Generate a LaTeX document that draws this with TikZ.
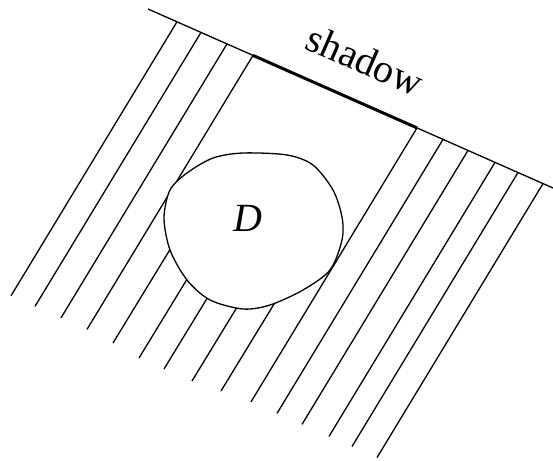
\documentclass[tikz,border=0pt]{standalone}
\usepackage{fontspec}
\setmainfont{Liberation Serif}
\usetikzlibrary{calc}
\definecolor{Ink}{HTML}{000000}
\tikzset{
  rayline/.style={draw=Ink, line width=1.3pt},
  wallline/.style={draw=Ink, line width=1.3pt},
  shadowline/.style={draw=Ink, line width=3pt},
  blobline/.style={draw=Ink, fill=white, line width=1.3pt},
  tagfont/.style={font=\fontsize{40}{48}\selectfont, inner sep=0pt}
}

\begin{document}
\begin{tikzpicture}[x=1pt,y=-1pt]
  \useasboundingbox (0,0) rectangle (553,460);
  \coordinate (wallL) at (148,9);
  \coordinate (wallR) at (553,188);
  \coordinate (shadeA) at (253,55.4);
  \coordinate (shadeB) at (417,127.9);
  \draw[wallline] (wallL) -- (wallR);
  \draw[shadowline] (shadeA) -- (shadeB);
  \foreach \tx/\ty in {177/21.8, 201/32.4, 227/43.9, 253/55.4,
                       417/127.9, 443/139.4, 468/150.4, 495/162.4, 518/172.5, 543/183.6}
    \draw[rayline] (\tx,\ty) -- ++(-166,274);
  \foreach \bx/\by in {113/343, 139/358, 164/369, 192/381, 221/391}
    \draw[rayline] (\bx,\by) -- ++(75,-123);
  \draw[blobline] plot[smooth cycle] coordinates {
    (243,153) (287,155) (313,165) (333,190) (342,217) (342,240)
    (330,270) (303,290) (270,305) (243,309) (210,300) (187,280)
    (170,250) (164,218) (170,190) (187,173) (213,158)};
  \node[tagfont] (dtag) at (248,218) {\itshape D};
  \node[tagfont, rotate=-23.6] (shadowtag) at (365,60) {shadow};
\end{tikzpicture}
\end{document}
